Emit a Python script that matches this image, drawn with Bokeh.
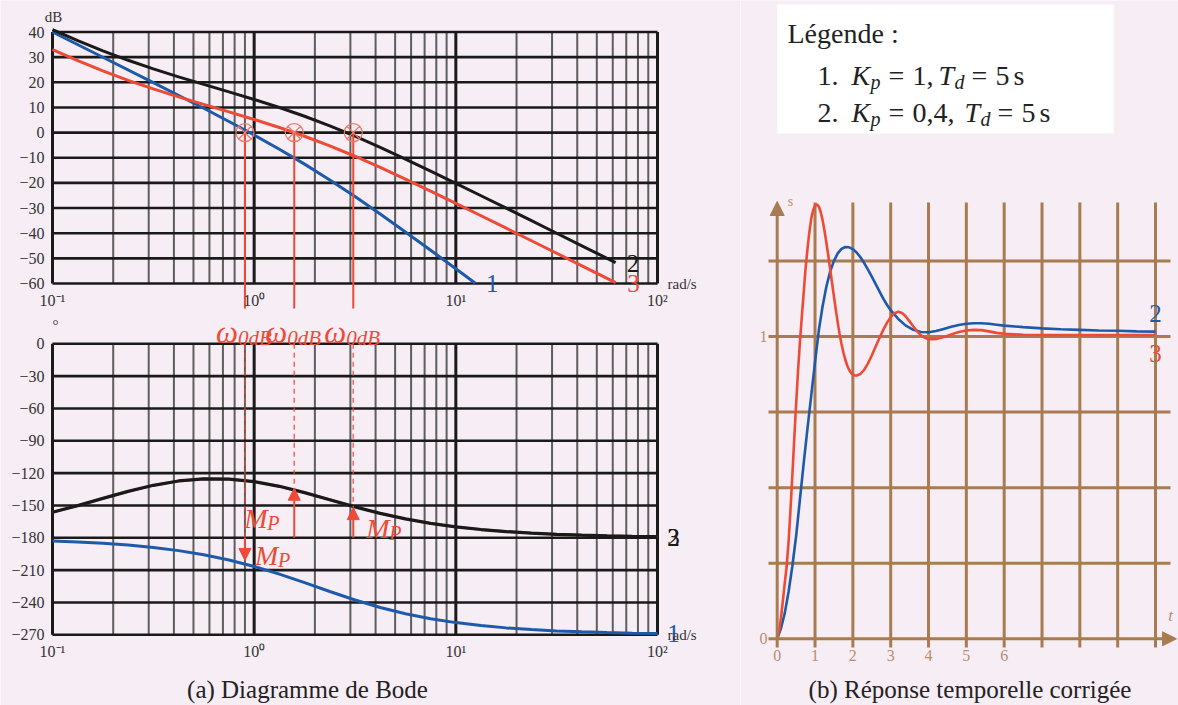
from bokeh.plotting import figure
from bokeh.layouts import row
from bokeh.models import Range1d, LogScale, Arrow, NormalHead
from bokeh.core.properties import value
from bokeh.embed import file_html
from bokeh.resources import INLINE

# ---------------- Bode data ----------------
# curve 1: gain (dB)
w_gain_1 = [0.1, 0.1778, 0.3162, 0.5623, 0.7499, 1.0, 1.3335, 1.7783, 2.3714,
            3.1623, 4.217, 5.6234, 7.4989, 10.0, 12.5]
gain_1 = [39.99, 29.97, 19.89, 9.67, 4.43, -0.97, -6.60, -12.53, -18.81,
          -25.44, -32.36, -39.50, -46.78, -54.15, -59.9]

# curves 2 and 3: gain (dB)
w_gain_23 = [0.1, 0.1334, 0.1778, 0.2371, 0.3162, 0.4217, 0.5623, 0.7499, 1.0,
             1.3335, 1.7783, 2.3714, 3.1623, 4.217, 5.6234, 7.4989, 10.0,
             13.335, 17.783, 23.714, 31.623, 42.17, 56.234, 62.0]
gain_2 = [40.96, 36.58, 32.50, 28.75, 25.33, 22.17, 19.17, 16.21, 13.18,
          9.98, 6.50, 2.70, -1.44, -5.87, -10.52, -15.30, -20.17,
          -25.10, -30.05, -35.03, -40.02, -45.01, -50.00, -51.70]
gain_3 = [33.00, 28.62, 24.54, 20.79, 17.37, 14.21, 11.21, 8.25, 5.22,
          2.02, -1.46, -5.26, -9.40, -13.83, -18.48, -23.26, -28.13,
          -33.06, -38.01, -42.99, -47.98, -52.97, -57.96, -59.66]

# phases (degrees)
w_phase = [0.1, 0.1334, 0.1778, 0.2371, 0.3162, 0.4217, 0.5623, 0.7499, 1.0,
           1.3335, 1.7783, 2.3714, 3.1623, 4.217, 5.6234, 7.4989, 10.0,
           13.335, 17.783, 23.714, 31.623, 42.17, 56.234, 74.989, 100.0]
phase_1 = [-182.86, -183.82, -185.08, -186.76, -188.99, -191.90, -195.70,
           -200.56, -206.57, -213.69, -221.64, -229.86, -237.69, -244.63,
           -250.43, -255.07, -258.69, -261.47, -263.58, -265.18, -266.38,
           -267.28, -267.96, -268.47, -268.85]
phase_2 = [-156.29, -150.13, -143.44, -136.90, -131.30, -127.27, -125.27,
           -125.49, -127.88, -132.22, -138.06, -144.68, -151.31, -157.35,
           -162.47, -166.60, -169.84, -172.33, -174.22, -175.66, -176.74,
           -177.55, -178.16, -178.62, -178.96]
phase_3 = list(phase_2)  # a pure gain change leaves the phase unchanged

# crossover pulsations and phase-margin arrows
w_0db = [0.9, 1.58, 3.1]
pm_base = [-180, -180, -180]
pm_tip = [-201, -134, -152]

# ticks
db_ticks = [40, 30, 20, 10, 0, -10, -20, -30, -40, -50, -60]
deg_ticks = [0, -30, -60, -90, -120, -150, -180, -210, -240, -270]
decades = [0.1, 1, 10, 100]
decade_labels = ["10\u207b\u00b9", "10\u2070", "10\u00b9", "10\u00b2"]

# ---------------- step responses ----------------
t_2 = [0.0, 0.1, 0.2, 0.3, 0.4, 0.5, 0.6, 0.7, 0.8, 0.9, 1.0, 1.1, 1.2, 1.3,
       1.4, 1.5, 1.6, 1.7, 1.8, 1.9, 2.0, 2.1, 2.2, 2.3, 2.4, 2.5, 2.6, 2.7,
       2.8, 2.9, 3.0, 3.2, 3.4, 3.6, 3.8, 4.0, 4.2, 4.4, 4.6, 4.8, 5.0, 5.2,
       5.4, 5.6, 5.8, 6.0, 6.5, 7.0, 7.5, 8.0, 8.5, 9.0, 9.5, 10.0]
s_2 = [0.000, 0.035, 0.085, 0.155, 0.240, 0.340, 0.460, 0.580, 0.695, 0.805,
       0.915, 1.020, 1.100, 1.165, 1.215, 1.250, 1.275, 1.290, 1.296, 1.295,
       1.289, 1.278, 1.262, 1.243, 1.221, 1.198, 1.174, 1.150, 1.126, 1.105,
       1.087, 1.058, 1.036, 1.022, 1.015, 1.014, 1.018, 1.025, 1.032, 1.038,
       1.042, 1.044, 1.044, 1.042, 1.039, 1.036, 1.031, 1.027, 1.024, 1.022,
       1.020, 1.019, 1.017, 1.016]

t_3 = [0.0, 0.05, 0.1, 0.15, 0.2, 0.25, 0.3, 0.35, 0.4, 0.45, 0.5, 0.55, 0.6,
       0.65, 0.7, 0.75, 0.8, 0.85, 0.9, 0.95, 1.0, 1.05, 1.1, 1.15, 1.2, 1.25,
       1.3, 1.35, 1.4, 1.45, 1.5, 1.55, 1.6, 1.65, 1.7, 1.75, 1.8, 1.85, 1.9,
       1.95, 2.0, 2.05, 2.1, 2.2, 2.3, 2.4, 2.5, 2.6, 2.7, 2.8, 2.9, 3.0, 3.1,
       3.2, 3.3, 3.4, 3.5, 3.6, 3.7, 3.8, 3.9, 4.0, 4.1, 4.2, 4.4, 4.6, 4.8,
       5.0, 5.2, 5.4, 5.6, 5.8, 6.0, 6.5, 7.0, 8.0, 9.0, 10.0]
s_3 = [0.000, 0.025, 0.070, 0.125, 0.185, 0.240, 0.320, 0.425, 0.540, 0.660,
       0.775, 0.885, 0.980, 1.065, 1.145, 1.225, 1.290, 1.345, 1.390, 1.418,
       1.433, 1.437, 1.430, 1.412, 1.385, 1.350, 1.310, 1.268, 1.223, 1.177,
       1.132, 1.088, 1.046, 1.008, 0.975, 0.947, 0.923, 0.904, 0.890, 0.880,
       0.874, 0.871, 0.871, 0.876, 0.890, 0.911, 0.937, 0.966, 0.994, 1.021,
       1.045, 1.064, 1.077, 1.082, 1.078, 1.066, 1.050, 1.033, 1.017, 1.004,
       0.996, 0.992, 0.991, 0.992, 0.998, 1.007, 1.015, 1.020, 1.022, 1.021,
       1.017, 1.012, 1.009, 1.006, 1.005, 1.005, 1.005, 1.005]

t_ticks = [0, 1, 2, 3, 4, 5, 6]
t_grid = [1, 2, 3, 4, 5, 6, 7, 8, 9, 10]
s_grid = [0.25, 0.5, 0.75, 1.0, 1.25]
s_ticks = [0, 1]

# ---------------- styles ----------------
BG = "#F6EDF5"
RED = "#EE4A35"
RED_LIGHT = "#F07866"
BLUE = "#1E5AAA"
BLACK = "#1A1A1A"
GRID_MINOR = "#5E5E5E"
TICK_TXT = "#333333"
BROWN = "#A97B51"
BROWN_TXT = "#B88F6B"
FONT = value("Liberation Serif")

# page layout helpers (page pixels -> data units)
DEC = (657 - 52) / 3.0
DB_PX = (283 - 31.5) / 100.0
DEG_PX = (634.3 - 343.3) / 270.0
T_PX = (1155 - 776.7) / 10.0
S_PX = 638.3 - 336.0


def px_w(px):
    return 10 ** (-1 + (px - 52) / DEC)


def py_db(py):
    return 40 - (py - 31.5) / DB_PX


def py_deg(py):
    return -(py - 343.3) / DEG_PX


def px_t(px):
    return (px - 776.7) / T_PX


def py_s(py):
    return (638.3 - py) / S_PX


def put(fig, xs, ys, texts, size, color, align="center", baseline="middle",
        italic=False, **kw):
    fig.text(x=xs, y=ys, text=texts, text_font=FONT,
             text_font_size=f"{size}px", text_color=color,
             text_align=align, text_baseline=baseline,
             text_font_style="italic" if italic else "normal", **kw)


def base_fig(width, **kw):
    f = figure(width=width, height=705, output_backend="svg",
               toolbar_location=None, x_axis_location=None,
               y_axis_location=None, min_border=0, min_border_left=0,
               min_border_right=0, min_border_top=0, min_border_bottom=0,
               background_fill_color=BG, border_fill_color=BG,
               outline_line_color=None, **kw)
    f.grid.visible = False
    return f


# ================= left panel: Bode diagram =================
p1 = base_fig(740, x_axis_type="log", x_scale=LogScale(),
              x_range=Range1d(px_w(0), px_w(740)),
              y_range=Range1d(py_db(705), py_db(0)))
p1.extra_y_ranges = {"deg": Range1d(py_deg(705), py_deg(0))}

minor_w = [d * 10.0 ** k for k in (-1, 0, 1) for d in range(2, 10)]

# gain grid
p1.segment(x0=minor_w, y0=-60, x1=minor_w, y1=40, line_color=GRID_MINOR,
           line_width=2)
p1.segment(x0=0.1, y0=db_ticks, x1=100, y1=db_ticks, line_color=BLACK,
           line_width=2.6)
p1.segment(x0=decades, y0=-60, x1=decades, y1=40, line_color=BLACK,
           line_width=3)

# phase grid
p1.segment(x0=minor_w, y0=-270, x1=minor_w, y1=0, line_color=GRID_MINOR,
           line_width=2, y_range_name="deg")
p1.segment(x0=0.1, y0=deg_ticks, x1=100, y1=deg_ticks, line_color=BLACK,
           line_width=2.6, y_range_name="deg")
p1.segment(x0=decades, y0=-270, x1=decades, y1=0, line_color=BLACK,
           line_width=3, y_range_name="deg")

# gain curves
p1.line(w_gain_1, gain_1, line_color=BLUE, line_width=3)
p1.line(w_gain_23, gain_2, line_color=BLACK, line_width=3)
p1.line(w_gain_23, gain_3, line_color=RED, line_width=3)

# phase curves
p1.line(w_phase, phase_1, line_color=BLUE, line_width=3, y_range_name="deg")
p1.line(w_phase, phase_3, line_color=RED, line_width=2.4, y_range_name="deg")
p1.line(w_phase, phase_2, line_color=BLACK, line_width=3.2,
        y_range_name="deg")

# 0 dB crossings
p1.segment(x0=w_0db, y0=0, x1=w_0db, y1=py_db(308), line_color=RED,
           line_width=2)
p1.scatter(w_0db, [0] * len(w_0db), marker="circle_x", size=18,
           fill_color=None, line_color=RED_LIGHT, line_width=1.2)
put(p1, w_0db, [py_db(332)] * 3, ["\u03c9"] * 3, 31, RED, align="right",
    baseline="alphabetic", italic=True, x_offset=-7)
put(p1, w_0db, [py_db(337)] * 3, ["0dB"] * 3, 21, RED, align="left",
    baseline="alphabetic", italic=True, x_offset=-7)

# phase margins
dash_end = [max(b, t) for b, t in zip(pm_base, pm_tip)]
p1.segment(x0=w_0db, y0=0, x1=w_0db, y1=dash_end, line_color=RED,
           line_width=1.5, line_dash="5 4", line_alpha=0.8,
           y_range_name="deg")
for w, b, t in zip(w_0db, pm_base, pm_tip):
    p1.add_layout(Arrow(end=NormalHead(size=12, fill_color=RED,
                                       line_color=RED, line_width=1),
                        x_start=w, y_start=b, x_end=w, y_end=t,
                        line_color=RED, line_width=2, y_range_name="deg"))
mp_dx = [10, -50, 13]
mp_y = [py_deg(555), py_deg(518), py_deg(528)]
put(p1, w_0db, mp_y, ["M"] * 3, 28, RED, align="left", baseline="alphabetic",
    italic=True, x_offset=mp_dx, y_range_name="deg")
put(p1, w_0db, mp_y, ["P"] * 3, 20, RED, align="left", baseline="alphabetic",
    italic=True, x_offset=[d + 23 for d in mp_dx], y_offset=4,
    y_range_name="deg")

# curve labels
put(p1, [px_w(491.7)], [py_db(282.5)], ["1"], 25, BLUE)
put(p1, [px_w(632.5)], [py_db(262.5)], ["2"], 25, BLACK)
put(p1, [px_w(633)], [py_db(283)], ["3"], 25, RED)
put(p1, [px_w(673)], [py_deg(537)], ["2"], 25, BLACK, y_range_name="deg")
put(p1, [px_w(673)], [py_deg(537)], ["3"], 25, BLACK, y_range_name="deg")
put(p1, [px_w(673)], [py_deg(633)], ["1"], 25, BLUE, y_range_name="deg")

# tick labels and units
put(p1, [px_w(44)] * len(db_ticks), db_ticks,
    [str(v).replace("-", "\u2212") for v in db_ticks], 16, TICK_TXT,
    align="right")
put(p1, [px_w(44)] * len(deg_ticks), deg_ticks,
    [str(v).replace("-", "\u2212") for v in deg_ticks], 16, TICK_TXT,
    align="right", y_range_name="deg")
put(p1, decades, [py_db(300)] * 4, decade_labels, 16, TICK_TXT)
put(p1, decades, [py_deg(651)] * 4, decade_labels, 16, TICK_TXT,
    y_range_name="deg")
put(p1, [px_w(53)], [py_db(16)], ["dB"], 15, TICK_TXT)
put(p1, [px_w(55)], [py_deg(324)], ["\u00b0"], 15, TICK_TXT,
    y_range_name="deg")
put(p1, [px_w(667)], [py_db(283)], ["rad/s"], 15, TICK_TXT, align="left")
put(p1, [px_w(667)], [py_deg(634)], ["rad/s"], 15, TICK_TXT, align="left",
    y_range_name="deg")
put(p1, [px_w(307)], [py_deg(689)], ["(a) Diagramme de Bode"], 25, "#222222",
    y_range_name="deg")

# ================= right panel: step response =================
p2 = base_fig(438, x_range=Range1d(px_t(740), px_t(1178)),
              y_range=Range1d(py_s(705), py_s(0)))

# legend box
p2.quad(left=px_t(776.7), right=px_t(1113.3), top=py_s(4), bottom=py_s(133),
        fill_color="white", line_color=None)
put(p2, [px_t(787)], [py_s(33)], ["L\u00e9gende :"], 28, "#222222",
    align="left", baseline="alphabetic")
legend_rows = [
    [("1.", 817, False, 0), ("K", 851, True, 0), ("p", 870, True, 6),
     ("=", 888, False, 0), ("1,", 912, False, 0), ("T", 938, True, 0),
     ("d", 954, True, 6), ("=", 971, False, 0), ("5", 995, False, 0),
     ("s", 1013, False, 0)],
    [("2.", 817, False, 0), ("K", 851, True, 0), ("p", 870, True, 6),
     ("=", 888, False, 0), ("0,4,", 912, False, 0), ("T", 964, True, 0),
     ("d", 980, True, 6), ("=", 997, False, 0), ("5", 1021, False, 0),
     ("s", 1039, False, 0)],
]
for base_py, pieces in zip([75, 112], legend_rows):
    for txt, px, ital, dy in pieces:
        put(p2, [px_t(px)], [py_s(base_py + dy)], [txt],
            20 if dy else 28, "#222222", align="left", baseline="alphabetic",
            italic=ital)

# grid
p2.segment(x0=t_grid, y0=py_s(647), x1=t_grid, y1=py_s(202),
           line_color=BROWN, line_width=3)
p2.segment(x0=px_t(768), y0=s_grid, x1=px_t(1170), y1=s_grid,
           line_color=BROWN, line_width=3)
p2.add_layout(Arrow(end=NormalHead(size=14, fill_color=BROWN,
                                   line_color=BROWN),
                    x_start=px_t(768), y_start=0, x_end=px_t(1176), y_end=0,
                    line_color=BROWN, line_width=3))
p2.add_layout(Arrow(end=NormalHead(size=14, fill_color=BROWN,
                                   line_color=BROWN),
                    x_start=0, y_start=py_s(647), x_end=0, y_end=py_s(201),
                    line_color=BROWN, line_width=3))

# responses
p2.line(t_2, s_2, line_color=BLUE, line_width=2.6)
p2.line(t_3, s_3, line_color=RED, line_width=2.6)

# labels
put(p2, t_ticks, [py_s(655)] * len(t_ticks), [str(v) for v in t_ticks], 16,
    BROWN_TXT)
put(p2, [px_t(767)] * 2, s_ticks, [str(v) for v in s_ticks], 16, BROWN_TXT,
    align="right")
put(p2, [px_t(790)], [py_s(201)], ["s"], 14, BROWN_TXT)
put(p2, [px_t(1170)], [py_s(615)], ["t"], 17, BROWN_TXT, italic=True)
put(p2, [px_t(1155)], [py_s(313)], ["2"], 25, BLUE)
put(p2, [px_t(1155)], [py_s(353)], ["3"], 25, RED)
put(p2, [px_t(969.5)], [py_s(689)], ["(b) R\u00e9ponse temporelle corrig\u00e9e"],
    25, "#222222")

layout = row(p1, p2, spacing=0)
open("out.html", "w").write(file_html(layout, INLINE))
